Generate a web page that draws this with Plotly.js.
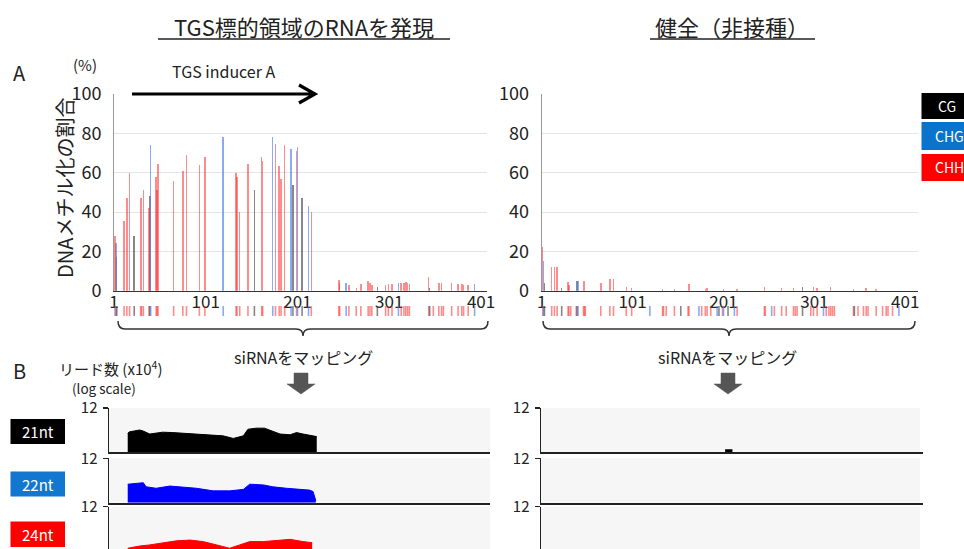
<!DOCTYPE html>
<html><head><meta charset="utf-8">
<script src="https://cdn.plot.ly/plotly-3.0.1.min.js"></script>
<style>html,body{margin:0;padding:0;background:#fff;}#chart{width:964px;height:549px;}</style>
</head><body><div id="chart"></div>
<script>
// ---------- DATA ----------
const sitePos = [2,3,4,12,15,18,23,30,31,33,39,40,41,47,48,49,66,76,80,94,100,120,134,135,138,147,154,162,163,174,177,181,183,187,194,196,200,201,206,213,216,
  246,247,254,257,265,270,278,280,282,288,297,300,304,311,314,317,319,321,323,344,345,349,355,358,360,369,376,380,382,387,394];
const siteCtx = ['CHH','CHG','CG','CHH','CHH','CHH','CG','CHH','CHH','CHH','CHH','CG','CHG','CHH','CHH','CHH','CHH','CHH','CHH','CHH','CHH','CHG','CHH','CHH','CHH','CHH','CG','CHH','CHH','CHG','CHH','CHH','CHH','CHH','CHG','CG','CHH','CHG','CG','CHG','CHH',
  'CHH','CHH','CHG','CHH','CHH','CHH','CHH','CHH','CHH','CG','CHH','CHH','CHH','CHG','CHH','CHH','CHH','CHH','CHH','CHH','CG','CHH','CHH','CHH','CHH','CHH','CHH','CHH','CHH','CHH','CHG'];
const methylInduced = [28,24,17,35.5,47,60,28,47,47,51,42,48,74,58,51,64.6,56,61,69,64,68,78,60,58,40,64.6,51,68,66,78,74.5,63.5,57,74,72,53.5,71,73,47,43,40,
  5.4,4,3.7,3,1.2,3.4,5,3.7,3,1.7,3,3.4,3.2,3.7,3.7,4,4.4,4,3.4,6.8,1.2,0,3.7,3.7,0,3.7,3.4,3.4,3,3,3.4];
const methylHealthy = [22,15,3.7,12,12,12,1.4,4.2,3,0,0,4.7,4.7,4.7,4.7,0,3.9,6,6,2,1.4,0,0.8,0,0,0.8,0,0,3.4,0,0,0.8,1.4,0,0,0,0,1,0,0,1,
  1.7,0,0,0,1.4,0,1.4,0,0,1.7,0,2,1.4,0,0,0,1.7,0,0,1,0,0,0,1.4,0,1,0,0,0,0,0];
const xTickVals = [1,101,201,301,401];
const yTickVals = [0,20,40,60,80,100];
const contexts = ['CG','CHG','CHH'];
const ntLabels = ['21nt','22nt','24nt'];
const readTick = [12];

const readPos21 = [16,18,29,33,40,47,54,65,76,91,105,120,131,142,147,156,165,171,182,193,200,207,218,222];
const reads21   = [5.1,5.5,6.0,5.7,4.9,5.1,5.4,5.3,5.1,4.9,4.7,4.4,3.7,4.4,6.2,6.5,6.5,5.9,4.9,4.7,5.3,4.9,4.4,4.2];
const readPos22 = [16,26,33,36,47,62,76,91,109,127,142,149,164,174,189,207,214,218,221];
const reads22   = [5.0,5.2,5.4,4.3,3.9,4.5,4.3,3.9,3.2,3.2,3.6,5.0,4.8,4.3,3.9,3.6,3.4,3.0,0.5];
const readPos24 = [16,29,40,54,69,84,98,113,127,138,149,164,182,193,207,217];
const reads24   = [0.8,1.4,1.7,2.3,2.8,3.0,2.6,1.7,0.8,1.7,2.6,2.6,3.0,3.2,2.6,2.3];
const healthyPos21 = [203,211];
const healthyReads21 = [0.6,0.6];
const healthyPos22 = [];
const healthyReads22 = [];
const healthyPos24 = [];
const healthyReads24 = [];

// ---------- STYLE ----------
const W = 964, H = 549;
const fx = p => p / W;
const fy = p => 1 - p / H;
const FONT = "'Noto Sans CJK JP', 'Noto Sans', sans-serif";
const barColor = {CG:'rgba(70,70,70,0.65)', CHG:'rgba(85,135,235,0.7)', CHH:'rgba(255,45,45,0.55)'};
const boxColor = {CG:'#000000', CHG:'#0a74cc', CHH:'#ff0000'};
const ntColor = ['#000000','#0000ff','#ff0000'];
const ntBox = ['#000000','#1477cf','#ff0000'];

const traces = [];
contexts.forEach(c => {
  const idx = sitePos.map((p,i)=>i).filter(i => siteCtx[i] === c);
  traces.push({type:'bar', x: idx.map(i=>sitePos[i]), y: idx.map(i=>methylInduced[i]), width: 1.6,
    marker:{color:barColor[c], line:{width:0}}, xaxis:'x', yaxis:'y', hoverinfo:'skip', showlegend:false});
  traces.push({type:'bar', x: idx.map(i=>sitePos[i]), y: idx.map(i=>methylHealthy[i]), width: 1.6,
    marker:{color:barColor[c], line:{width:0}}, xaxis:'x2', yaxis:'y2', hoverinfo:'skip', showlegend:false});
});
['x3','x4'].forEach((xa,k) => {
  traces.push({type:'scatter', mode:'markers', x: sitePos, y: sitePos.map(()=>0.5),
    marker:{symbol:'line-ns', size:8, line:{width:1.6, color: siteCtx.map(c=>barColor[c])}},
    xaxis: xa, yaxis: k===0?'y3':'y4', hoverinfo:'skip', showlegend:false});
});
const readSets = [
  [readPos21, reads21, 'x5','y5', 0], [readPos22, reads22, 'x6','y6', 1], [readPos24, reads24, 'x7','y7', 2],
  [healthyPos21, healthyReads21, 'x8','y8', 0], [healthyPos22, healthyReads22, 'x9','y9', 1], [healthyPos24, healthyReads24, 'x10','y10', 2]
];
readSets.forEach(([xs, ys, xa, ya, k]) => {
  traces.push({type:'scatter', mode:'lines', x: xs, y: ys, fill:'tozeroy', fillcolor: ntColor[k],
    line:{color: ntColor[k], width: 1}, xaxis: xa, yaxis: ya, hoverinfo:'skip', showlegend:false});
});

// ---------- AXES ----------
const tickFont = {family: FONT, size: 17, color: '#222'};
const layout = {
  width: W, height: H, autosize: false,
  margin: {l:0, r:0, t:0, b:0, pad:0},
  paper_bgcolor: '#ffffff', plot_bgcolor: 'rgba(0,0,0,0)',
  bargap: 0, barmode: 'overlay', showlegend: false,
  font: {family: FONT, color: '#222'},
  annotations: [], shapes: []
};
function topX(domain, range, anchor) {
  return {domain, range, anchor, tickvals: xTickVals, ticktext: xTickVals.map(String), ticks:'', showgrid:false,
    zeroline:false, showline:true, linecolor:'#333', linewidth:1.5, tickfont: tickFont, ticklabelstandoff: -5, fixedrange:true};
}
function topY(domain, anchor) {
  return {domain, range:[0,100], anchor, tickvals: yTickVals, ticks:'', showgrid:true, gridcolor:'#e4e4e4', gridwidth:1,
    zeroline:false, showline:true, linecolor:'#999', linewidth:1, tickfont: {family: FONT, size: 18, color:'#222'}, ticklabelstandoff: 8};
}
const leftDom = [fx(114), fx(487)], leftRange = [1, 407.5];
const rightDom = [fx(541.7), fx(918)], rightRange = [1, 415];
layout.xaxis = topX(leftDom, leftRange, 'y');
layout.yaxis = topY([fy(290.7), fy(94)], 'x');
layout.xaxis2 = topX(rightDom, rightRange, 'y2');
layout.yaxis2 = topY([fy(290.7), fy(94)], 'x2');
function hiddenX(domain, range, anchor) {
  return {domain, range, anchor, visible:false, fixedrange:true};
}
function hiddenY(domain, anchor) {
  return {domain, range:[0,1], anchor, visible:false, fixedrange:true};
}
layout.xaxis3 = hiddenX(leftDom, leftRange, 'y3');
layout.yaxis3 = hiddenY([fy(316), fy(306)], 'x3');
layout.xaxis4 = hiddenX(rightDom, rightRange, 'y4');
layout.yaxis4 = hiddenY([fy(316), fy(306)], 'x4');

const panelY = [[fy(452), fy(408)], [fy(502.7), fy(458.3)], [0, fy(506.7)]];
const panelRange = [[0,12],[0,12],[0.6,12]];
const botLeftDom = [fx(109), fx(490)], botLeftRange = [-4.4, 410.8];
const botRightDom = [fx(541), fx(923)], botRightRange = [0.23, 420.9];
for (let k = 0; k < 6; k++) {
  const n = k + 5;
  const side = k < 3 ? 0 : 1;
  const p = k % 3;
  layout['xaxis' + n] = {domain: side ? botRightDom : botLeftDom, range: side ? botRightRange : botLeftRange,
    anchor: 'y' + n, showticklabels:false, ticks:'', showgrid:false, zeroline:false, showline:true, linecolor:'#222', linewidth:2, fixedrange:true};
  layout['yaxis' + n] = {domain: panelY[p], range: panelRange[p], anchor: 'x' + n,
    tickvals: readTick, ticktext: readTick.map(String), ticks:'outside', ticklen:5, tickwidth:1.5, tickcolor:'#222',
    showgrid:true, gridcolor:'#e2e2e2', zeroline:false, showline:true, linecolor:'#222', linewidth:1.5,
    tickfont: {family: FONT, size: 15, color:'#222'}, ticklabelstandoff: 2, fixedrange:true};
}

// ---------- SHAPES / ANNOTATIONS ----------
function rect(x0,y0,x1,y1,fill,layer) {
  layout.shapes.push({type:'rect', xref:'paper', yref:'paper', x0:fx(x0), x1:fx(x1), y0:fy(y1), y1:fy(y0),
    fillcolor: fill, line:{width:0}, layer: layer||'above'});
}
function path(cmds, color, width, fill) {
  const d = cmds.map(c => typeof c === 'string' ? c : (fx(c[0]).toFixed(5) + ',' + fy(c[1]).toFixed(5))).join(' ');
  layout.shapes.push({type:'path', xref:'paper', yref:'paper', path: d,
    line:{color: color, width: width}, fillcolor: fill || 'rgba(0,0,0,0)'});
}
function ann(text, x, y, size, opts) {
  layout.annotations.push(Object.assign({text, x: fx(x), y: fy(y), xref:'paper', yref:'paper', showarrow:false,
    xanchor:'center', yanchor:'middle', borderpad:0, font:{family: FONT, size: size, color:'#222'}}, opts || {}));
}
// panel backgrounds
[[408,452],[458.3,502.7],[506.7,549]].forEach(([a,b]) => {
  rect(109,a,490,b,'#f6f6f6','below');
  rect(541,a,920,b,'#f6f6f6','below');
});
// headings
ann('TGS標的領域のRNAを発現', 304, 26, 22);
path(['M',[158,39],'L',[450,39]], '#222', 1.5);
ann('健全（非接種）', 732, 26, 22);
path(['M',[650,39],'L',[815,39]], '#222', 1.5);
ann('A', 19, 72, 20);
ann('B', 19, 370, 20);
ann('(%)', 85, 64, 15);
ann('TGS inducer A', 224, 71, 16);
path(['M',[132,94],'L',[313,94],'M',[299,85],'L',[315,94],'L',[299,103]], '#000', 3.2);
ann('DNAメチル化の割合', 64, 188, 20, {textangle:-90});
// legend boxes
contexts.forEach((c,i) => {
  const tops = [93,122,154], bots = [119,150,181];
  rect(921.5, tops[i], 966, bots[i], boxColor[c]);
  ann(c, c === 'CG' ? 947 : 949, (tops[i]+bots[i])/2, 14, {font:{family:FONT, size:14, color:'#fff'}});
});
// brackets
function bracket(a, b, c) {
  path(['M',[a,321],'Q',[a,329],'',[a+7,329],'L',[c-7,329],'Q',[c,329],'',[c,336],'Q',[c,329],'',[c+7,329],'L',[b-7,329],'Q',[b,329],'',[b,321]], '#333', 1.5);
}
bracket(118, 488, 303);
bracket(543, 915, 729);
ann('siRNAをマッピング', 303, 357, 16);
ann('siRNAをマッピング', 727, 357, 16);
function downArrow(cx) {
  path(['M',[cx-7,373],'L',[cx+7,373],'L',[cx+7,384],'L',[cx+14,384],'L',[cx,394],'L',[cx-14,384],'L',[cx-7,384],'Z'], '#555', 0.5, '#555');
}
downArrow(301);
downArrow(728);
ann('リード数 (x10<sup>4</sup>)', 110, 368, 15);
ann('(log scale)', 104, 387.5, 13.5);
// nt labels
ntLabels.forEach((t,i) => {
  const tops = [419,471.5,521.5], bots = [444,496.5,547];
  rect(10.5, tops[i], 65, bots[i], ntBox[i]);
  ann(t, 38, (tops[i]+bots[i])/2, 15, {font:{family:FONT, size:15, color:'#fff'}});
});

Plotly.newPlot('chart', traces, layout, {staticPlot:true, displayModeBar:false});
</script>
</body></html>
